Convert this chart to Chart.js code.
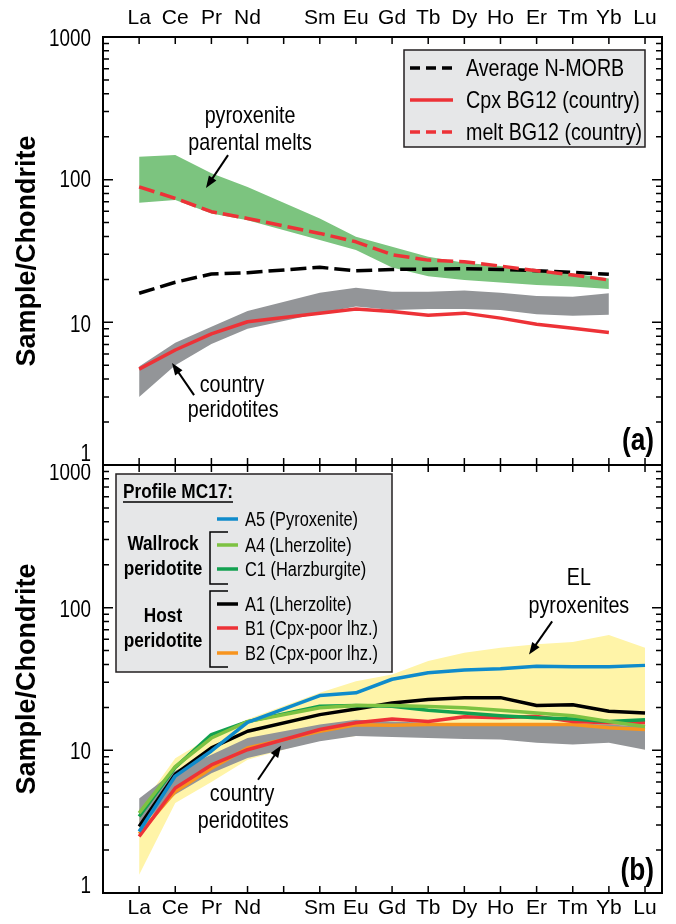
<!DOCTYPE html>
<html>
<head>
<meta charset="utf-8">
<script src="https://cdn.jsdelivr.net/npm/chart.js@4.4.1/dist/chart.umd.min.js"></script>
<style>
  html, body { margin: 0; padding: 0; background: #fff; }
  #wrap { position: relative; width: 676px; height: 924px; }
  canvas { position: absolute; left: 0; }
  #top { top: 0; }
  #bot { top: 464px; }
</style>
</head>
<body>
<div id="wrap">
  <canvas id="top" width="676" height="466"></canvas>
  <canvas id="bot" width="676" height="460"></canvas>
</div>
<script>
// REE order, Pm has no data (tick only)
const elements = ['La', 'Ce', 'Pr', 'Nd', 'Pm', 'Sm', 'Eu', 'Gd', 'Tb', 'Dy', 'Ho', 'Er', 'Tm', 'Yb', 'Lu'];
const yTickLabels = [1, 10, 100, 1000];

// panel (a)
const nmorbAvg   = [16.0, 19.1, 21.8, 22.3, null, 24.3, 23.0, 23.5, 23.6, 23.8, 23.5, 23.0, 22.4, 21.7, null];
const cpxBG12    = [4.7, 6.4, 8.3, 10.1, null, 11.6, 12.4, 11.9, 11.2, 11.6, 10.7, 9.7, 9.1, 8.5, null];
const meltBG12   = [89, 74, 59.6, 53.5, null, 42.0, 36.7, 29.8, 27.3, 26.6, 24.8, 23.0, 21.5, 19.8, null];
const parentHigh = [145, 149, 111, 89, null, 53.5, 39.8, 33.9, 28.8, 26.2, 24.8, 23.3, 22.0, 20.3, null];
const parentLow  = [69, 72, 58, 52, null, 37.7, 32.1, 24.2, 21.0, 19.8, 19.0, 18.3, 17.8, 17.1, null];
const countryHighA = [4.9, 7.2, 9.3, 12.0, null, 16.1, 17.5, 16.4, 16.4, 16.7, 16.1, 15.3, 15.1, 16.0, null];
const countryLowA  = [3.0, 5.0, 7.05, 9.0, null, 11.6, 12.9, 12.2, 12.4, 12.4, 12.2, 11.4, 11.1, 11.3, null];

// panel (b), profile MC17
const a5 = [2.7, 6.6, 9.9, 15.7, null, 24.2, 25.3, 31.5, 35.0, 36.5, 37.3, 38.9, 38.6, 38.6, 39.4];
const a4 = [3.63, 7.7, 12.2, 15.9, null, 19.9, 20.6, 20.6, 20.3, 19.9, 19.1, 18.3, 17.5, 15.9, 14.7];
const c1 = [3.44, 7.6, 12.9, 15.9, null, 20.4, 20.6, 20.4, 19.1, 18.3, 17.5, 16.9, 16.6, 15.9, 16.4];
const a1 = [2.92, 6.8, 10.4, 13.6, null, 17.8, 19.5, 21.5, 22.7, 23.4, 23.4, 20.6, 20.9, 18.8, 18.3];
const b1 = [2.49, 5.44, 7.9, 10.1, null, 14.0, 15.6, 16.6, 15.9, 17.2, 16.9, 17.3, 15.9, 15.6, 15.6];
const b2 = [2.6, 5.15, 7.5, 10.4, null, 13.6, 15.1, 15.0, 15.2, 15.2, 15.2, 15.2, 15.2, 14.4, 14.0];
const countryHighB = [4.6, 7.2, 9.33, 12.2, null, 15.2, 16.4, 15.9, 15.6, 15.4, 15.4, 15.4, 15.4, 15.2, 14.7];
const countryLowB  = [2.92, 4.9, 6.9, 8.84, null, 11.6, 12.6, 12.4, 12.2, 12.0, 11.9, 11.3, 11.0, 11.3, 10.1];
const elHigh = [3.9, 8.8, 12.5, 16.5, null, 25.3, 30.5, 34.0, 42.2, 48.3, 52.4, 55.3, 57.4, 64.3, 52.4];
const elLow  = [1.34, 4.27, 6.0, 8.6, null, 11.9, 12.6, 12.6, 12.5, 12.4, 12.3, 12.0, 11.8, 12.0, 11.0];

const RED = '#ed3237', BLUE = '#0f8bcb', LGREEN = '#7dc242', DGREEN = '#12a150', ORANGE = '#f7941e';
const SANS = "'Liberation Sans', Arial, sans-serif";
const NARROW = 0.82; // no narrow face installed, squeeze the regular one

Chart.defaults.font.family = SANS;
Chart.defaults.color = '#000';

function pts(arr) {
    return arr.map((v, i) => (v == null ? null : { x: i, y: v })).filter(p => p);
}

function lineSet(label, arr, color, dash, order) {
    return {
        label: label, data: pts(arr), borderColor: color, borderWidth: 3.5, borderDash: dash || [],
        pointRadius: 0, fill: false, tension: 0, order: order, borderJoinStyle: 'round'
    };
}

function bandSets(label, low, high, color, order) {
    return [
        { label: label + ' min', data: pts(low), borderWidth: 0, borderColor: 'rgba(0,0,0,0)', pointRadius: 0, fill: false, order: order },
        { label: label, data: pts(high), borderWidth: 0, borderColor: 'rgba(0,0,0,0)', backgroundColor: color, pointRadius: 0, fill: '-1', order: order }
    ];
}

function scalesFor(pos, axisH, pad) {
    return {
        x: {
            type: 'linear', position: pos, min: -1, max: 14.47,
            afterBuildTicks: s => { s.ticks = elements.map((e, i) => ({ value: i })); },
            afterFit: s => { s.height = axisH; },
            ticks: {
                autoSkip: false, maxRotation: 0, padding: pad, font: { size: 21 },
                callback: v => (elements[v] === 'Pm' ? '' : elements[v])
            },
            grid: { display: false, drawTicks: false },
            border: { display: false }
        },
        y: {
            type: 'logarithmic', min: 1, max: 1000,
            afterFit: s => { s.width = 103; },
            ticks: { display: false },
            grid: { display: false, drawTicks: false },
            border: { display: false },
            title: {
                display: true, text: 'Sample/Chondrite',
                font: { size: 27, weight: 'bold' },
                padding: { top: 11, bottom: 0 }
            }
        }
    };
}

// text squeezed horizontally, like the narrow face of the original
function ntext(ctx, s, x, y, align) {
    ctx.save();
    ctx.translate(x, y);
    ctx.scale(NARROW, 1);
    ctx.textAlign = align;
    ctx.fillText(s, 0, 0);
    ctx.restore();
}

function arrow(ctx, x1, y1, x2, y2) {
    const ang = Math.atan2(y2 - y1, x2 - x1);
    const c = Math.cos(ang), s = Math.sin(ang);
    ctx.lineWidth = 2;
    ctx.beginPath();
    ctx.moveTo(x1, y1);
    ctx.lineTo(x2 - 8 * c, y2 - 8 * s);
    ctx.stroke();
    ctx.beginPath();
    ctx.moveTo(x2, y2);
    ctx.lineTo(x2 - 12 * c + 4.5 * s, y2 - 12 * s - 4.5 * c);
    ctx.lineTo(x2 - 12 * c - 4.5 * s, y2 - 12 * s + 4.5 * c);
    ctx.closePath();
    ctx.fill();
}

function drawNotes(ctx, chart, notes, arrows) {
    const xs = chart.scales.x, ys = chart.scales.y;
    ctx.font = '24px ' + SANS;
    ctx.textBaseline = 'middle';
    notes.forEach(n => ntext(ctx, n.text, xs.getPixelForValue(n.x), ys.getPixelForValue(n.y), 'center'));
    arrows.forEach(r => arrow(ctx,
        xs.getPixelForValue(r.from[0]), ys.getPixelForValue(r.from[1]),
        xs.getPixelForValue(r.to[0]), ys.getPixelForValue(r.to[1])));
}

function sample(ctx, x1, x2, y, color, dash, w) {
    ctx.save();
    ctx.strokeStyle = color;
    ctx.lineWidth = w;
    ctx.setLineDash(dash);
    ctx.beginPath();
    ctx.moveTo(x1, y);
    ctx.lineTo(x2, y);
    ctx.stroke();
    ctx.restore();
}

const topLegend = [
    { label: 'Average N-MORB', color: '#000', dash: [10, 6] },
    { label: 'Cpx BG12 (country)', color: RED, dash: [] },
    { label: 'melt BG12 (country)', color: RED, dash: [10, 6] }
];
const botLegend = [
    { label: 'A5 (Pyroxenite)', color: BLUE },
    { label: 'A4 (Lherzolite)', color: LGREEN },
    { label: 'C1 (Harzburgite)', color: DGREEN },
    { label: 'A1 (Lherzolite)', color: '#000' },
    { label: 'B1 (Cpx-poor lhz.)', color: RED },
    { label: 'B2 (Cpx-poor lhz.)', color: ORANGE }
];

function extrasTop(ctx, chart) {
    const a = chart.chartArea;
    drawNotes(ctx, chart,
        [{ text: 'pyroxenite', x: 3.07, y: 279 }, { text: 'parental melts', x: 3.07, y: 180 },
         { text: 'country', x: 2.57, y: 3.64 }, { text: 'peridotites', x: 2.6, y: 2.43 }],
        [{ from: [2.46, 148.7], to: [1.85, 87.3] }, { from: [1.52, 3.09], to: [0.91, 5.19] }]);
    // legend box
    const x0 = a.right - 258, y0 = a.top + 13;
    ctx.fillStyle = '#e6e7e8';
    ctx.fillRect(x0, y0, 241, 97);
    ctx.strokeStyle = '#231f20';
    ctx.lineWidth = 1.5;
    ctx.strokeRect(x0, y0, 241, 97);
    ctx.fillStyle = '#000';
    ctx.font = '24px ' + SANS;
    ctx.textBaseline = 'middle';
    topLegend.forEach((it, k) => {
        const y = y0 + 18 + k * 32;
        sample(ctx, x0 + 6, x0 + 49, y, it.color, it.dash, 3.5);
        ntext(ctx, it.label, x0 + 62, y + 1, 'left');
    });
    ctx.font = 'bold 32px ' + SANS;
    ntext(ctx, '(a)', a.right - 8, a.bottom - 24, 'right');
}

function extrasBot(ctx, chart) {
    const a = chart.chartArea;
    drawNotes(ctx, chart,
        [{ text: 'EL', x: 12.17, y: 161 }, { text: 'pyroxenites', x: 12.17, y: 102.3 },
         { text: 'country', x: 2.85, y: 4.88 }, { text: 'peridotites', x: 2.88, y: 3.16 }],
        [{ from: [11.43, 80.2], to: [10.79, 47.0] }, { from: [3.29, 6.22], to: [3.93, 10.8] }]);
    const x0 = a.left + 13, y0 = a.top + 9;
    ctx.fillStyle = '#e6e7e8';
    ctx.fillRect(x0, y0, 276, 198);
    ctx.strokeStyle = '#231f20';
    ctx.lineWidth = 1.5;
    ctx.strokeRect(x0, y0, 276, 198);
    ctx.fillStyle = '#000';
    ctx.textBaseline = 'middle';
    ctx.font = 'bold 21px ' + SANS;
    ntext(ctx, 'Profile MC17:', x0 + 7, y0 + 18, 'left');
    const pw = ctx.measureText('Profile MC17:').width * NARROW;
    ctx.strokeStyle = '#000';
    ctx.lineWidth = 1.5;
    ctx.beginPath();
    ctx.moveTo(x0 + 7, y0 + 28);
    ctx.lineTo(x0 + 7 + pw, y0 + 28);
    ctx.stroke();
    ntext(ctx, 'Wallrock', x0 + 47, y0 + 70, 'center');
    ntext(ctx, 'peridotite', x0 + 47, y0 + 95, 'center');
    ntext(ctx, 'Host', x0 + 47, y0 + 142, 'center');
    ntext(ctx, 'peridotite', x0 + 47, y0 + 167, 'center');
    // brackets
    ctx.beginPath();
    [[58, 110], [117, 193]].forEach(b => {
        ctx.moveTo(x0 + 112, y0 + b[0]);
        ctx.lineTo(x0 + 94, y0 + b[0]);
        ctx.lineTo(x0 + 94, y0 + b[1]);
        ctx.lineTo(x0 + 112, y0 + b[1]);
    });
    ctx.stroke();
    ctx.font = '20px ' + SANS;
    const rows = [45, 71, 95, 130, 154, 179];
    botLegend.forEach((it, k) => {
        sample(ctx, x0 + 101, x0 + 122, y0 + rows[k], it.color, [], 3.5);
        ntext(ctx, it.label, x0 + 129, y0 + rows[k] + 1, 'left');
    });
    ctx.font = 'bold 32px ' + SANS;
    ntext(ctx, '(b)', a.right - 8, a.bottom - 22, 'right');
}

const panels = {
    top: { shift: { 1: -10, 10: 3, 100: 1, 1000: 3 }, extras: extrasTop },
    bot: { shift: { 1: -6, 10: 2, 100: 3, 1000: 9 }, extras: extrasBot }
};

const framePlugin = {
    id: 'frame',
    afterDatasetsDraw(chart) {
        const ctx = chart.ctx, a = chart.chartArea;
        const xs = chart.scales.x, ys = chart.scales.y;
        const cfg = panels[chart.canvas.id];
        ctx.save();
        ctx.strokeStyle = '#000';
        ctx.fillStyle = '#000';
        ctx.lineWidth = 1.5;
        ctx.beginPath();
        elements.forEach((e, i) => {
            const px = xs.getPixelForValue(i);
            ctx.moveTo(px, a.top); ctx.lineTo(px, a.top + 7);
            ctx.moveTo(px, a.bottom); ctx.lineTo(px, a.bottom - 7);
        });
        for (let d = 1; d < 1000; d *= 10) {
            for (let m = 1; m < 10; m++) {
                const py = ys.getPixelForValue(d * m);
                const len = m === 1 ? 10 : 6;
                ctx.moveTo(a.left, py); ctx.lineTo(a.left + len, py);
                ctx.moveTo(a.right, py); ctx.lineTo(a.right - len, py);
            }
        }
        ctx.stroke();
        ctx.lineWidth = 2;
        ctx.strokeRect(a.left, a.top, a.right - a.left, a.bottom - a.top);
        ctx.font = '23px ' + SANS;
        ctx.textBaseline = 'middle';
        yTickLabels.forEach(v => ntext(ctx, String(v), 91, ys.getPixelForValue(v) + cfg.shift[v], 'right'));
        cfg.extras(ctx, chart);
        ctx.restore();
    }
};

const commonPlugins = { legend: { display: false }, tooltip: { enabled: false } };

new Chart(document.getElementById('top'), {
    type: 'line',
    data: {
        datasets: [
            lineSet('melt BG12 (country)', meltBG12, RED, [16, 6], 1),
            lineSet('Cpx BG12 (country)', cpxBG12, RED, [], 2),
            lineSet('Average N-MORB', nmorbAvg, '#000', [16, 6], 3),
            ...bandSets('country peridotites', countryLowA, countryHighA, '#939598', 9),
            ...bandSets('pyroxenite parental melts', parentLow, parentHigh, '#7cc47f', 10)
        ]
    },
    options: {
        responsive: false, animation: false, devicePixelRatio: 1,
        layout: { padding: { left: 0, right: 14, top: 0, bottom: 1 } },
        scales: scalesFor('top', 37, 6),
        plugins: commonPlugins
    },
    plugins: [framePlugin]
});

new Chart(document.getElementById('bot'), {
    type: 'line',
    data: {
        datasets: [
            lineSet('A5 (Pyroxenite)', a5, BLUE, [], 1),
            lineSet('A4 (Lherzolite)', a4, LGREEN, [], 2),
            lineSet('C1 (Harzburgite)', c1, DGREEN, [], 3),
            lineSet('A1 (Lherzolite)', a1, '#000', [], 4),
            lineSet('B1 (Cpx-poor lhz.)', b1, RED, [], 5),
            lineSet('B2 (Cpx-poor lhz.)', b2, ORANGE, [], 6),
            ...bandSets('country peridotites', countryLowB, countryHighB, '#939598', 9),
            ...bandSets('EL pyroxenites', elLow, elHigh, '#fff4a8', 10)
        ]
    },
    options: {
        responsive: false, animation: false, devicePixelRatio: 1,
        layout: { padding: { left: 0, right: 14, top: 1, bottom: 0 } },
        scales: scalesFor('bottom', 31, 3),
        plugins: commonPlugins
    },
    plugins: [framePlugin]
});
</script>
</body>
</html>
